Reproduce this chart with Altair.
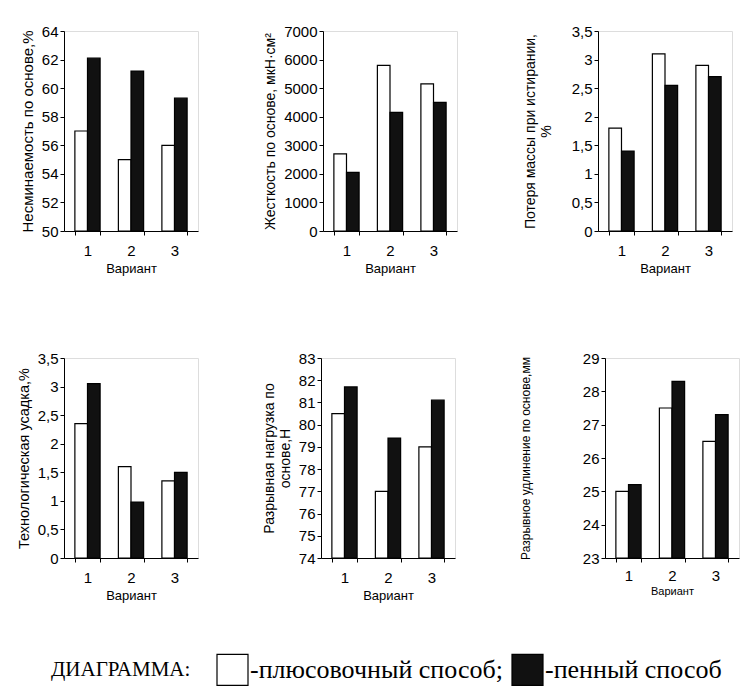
import altair as alt
import pandas as pd

variants = ["1", "2", "3"]
methods = ["плюсовочный способ", "пенный способ"]

y_titles = [
    ["Несминаемость по основе,%"],
    ["Жесткость по основе, мкН·см²"],
    ["Потеря массы при истирании,", "%"],
    ["Технологическая  усадка,%"],
    ["Разрывная нагрузка по", "основе,Н"],
    ["Разрывное удлинение по основе,мм"],
]
plus_vals = [
    [57, 55, 56],
    [2700, 5800, 5150],
    [1.8, 3.1, 2.9],
    [2.35, 1.6, 1.35],
    [80.5, 77, 79],
    [25, 27.5, 26.5],
]
foam_vals = [
    [62.1, 61.2, 59.3],
    [2050, 4150, 4500],
    [1.4, 2.55, 2.7],
    [3.05, 0.98, 1.5],
    [81.7, 79.4, 81.1],
    [25.2, 28.3, 27.3],
]
y_ticks = [
    [50, 52, 54, 56, 58, 60, 62, 64],
    [0, 1000, 2000, 3000, 4000, 5000, 6000, 7000],
    [0, 0.5, 1, 1.5, 2, 2.5, 3, 3.5],
    [0, 0.5, 1, 1.5, 2, 2.5, 3, 3.5],
    [74, 75, 76, 77, 78, 79, 80, 81, 82, 83],
    [23, 24, 25, 26, 27, 28, 29],
]
title_sizes = [15, 14, 14, 14.5, 14, 12]
xtitle_sizes = [13, 13, 13, 13, 13, 11]
title_pads = [6, 6, 18, 6, 6, 50]
xlabel_pads = [8, 8, 8, 8, 8, 6]

W, H = 134, 200


def panel(i):
    rows = []
    for v, a, b in zip(variants, plus_vals[i], foam_vals[i]):
        rows.append({"Вариант": v, "Способ": methods[0], "value": a})
        rows.append({"Вариант": v, "Способ": methods[1], "value": b})
    df = pd.DataFrame(rows)
    ymin, ymax = y_ticks[i][0], y_ticks[i][-1]
    return (
        alt.Chart(df)
        .mark_bar(stroke="black", strokeWidth=1.2)
        .encode(
            x=alt.X(
                "Вариант:N",
                sort=variants,
                scale=alt.Scale(paddingInner=0.42, paddingOuter=0.25),
                axis=alt.Axis(
                    title="Вариант",
                    titleFontSize=xtitle_sizes[i],
                    titlePadding=2 if i == 5 else 4,
                    labelAngle=0,
                    tickBand="extent",
                    labelPadding=xlabel_pads[i],
                ),
            ),
            xOffset=alt.XOffset("Способ:N", sort=methods),
            y=alt.Y(
                "value:Q",
                scale=alt.Scale(domain=[ymin, ymax], zero=False, nice=False),
                axis=alt.Axis(
                    title=y_titles[i],
                    titleFontSize=title_sizes[i],
                    titlePadding=title_pads[i],
                    values=y_ticks[i],
                    labelExpr="replace(format(datum.value, '~r'), '.', ',')",
                ),
            ),
            y2=alt.datum(ymin),
            color=alt.Color(
                "Способ:N",
                sort=methods,
                scale=alt.Scale(domain=methods, range=["#ffffff", "#111111"]),
                legend=alt.Legend(
                    title="ДИАГРАММА:",
                    orient="none",
                    legendX=-13,
                    legendY=622,
                    direction="horizontal",
                    titleOrient="left",
                    titleFont="Liberation Serif",
                    titleFontSize=21,
                    titleFontWeight="normal",
                    titleColor="black",
                    titlePadding=25,
                    titleBaseline="middle",
                    labelFont="Liberation Serif",
                    labelFontSize=26,
                    labelColor="black",
                    labelOffset=1,
                    labelLimit=500,
                    symbolType="square",
                    symbolSize=961,
                    symbolStrokeColor="black",
                    symbolStrokeWidth=1.2,
                    columnPadding=6,
                    labelExpr="datum.value == 'плюсовочный способ' ? '-плюсовочный способ;' : '-пенный способ'",
                ),
            ),
        )
        .properties(width=W, height=H)
    )


row1 = alt.hconcat(panel(0), panel(1), panel(2), spacing=64)
row2 = alt.hconcat(panel(3), panel(4), panel(5), spacing=62)
chart = (
    alt.vconcat(row1, row2, spacing=74)
    .properties(padding={"top": 15, "left": 7, "right": 0, "bottom": 0})
    .configure_view(stroke=None)
    .configure(font="Liberation Sans", background="white")
    .configure_axis(
        labelFont="Liberation Sans",
        titleFont="Liberation Sans",
        labelFontSize=15,
        labelColor="black",
        titleColor="black",
        titleFontWeight="normal",
        domainColor="black",
        tickColor="black",
        tickSize=4,
        grid=False,
        labelFlush=False,
    )
)
chart.save("out.html", embed_options={"renderer": "svg", "actions": False})
